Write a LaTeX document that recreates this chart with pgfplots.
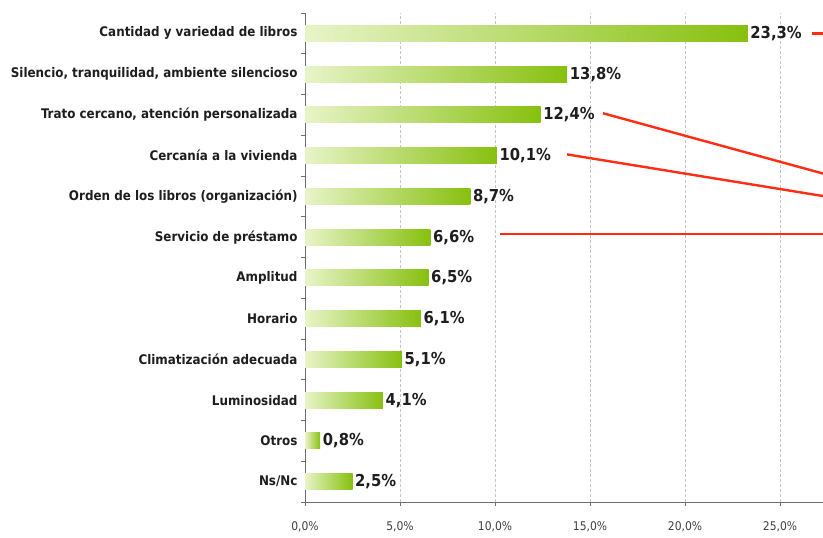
\documentclass[border=0pt]{standalone}
\usepackage{pgfplots}
\pgfplotsset{compat=1.18}
\usepackage{fontspec}
\setmainfont{DejaVu Sans Condensed}
\definecolor{barL}{RGB}{232,244,200}
\definecolor{barR}{RGB}{135,192,15}
\definecolor{txt}{RGB}{30,30,30}
\definecolor{annot}{RGB}{255,45,20}
\definecolor{gridc}{RGB}{195,195,195}
\definecolor{axc}{RGB}{110,110,110}
\pgfplotsset{
  mybar/.style={xbar, bar shift=0pt, bar width=16bp, draw=none,
    left color=barL, right color=barR, point meta=x,
    nodes near coords={\pgfmathprintnumber[assume math mode=true,fixed,fixed zerofill,precision=1,use comma]{\pgfplotspointmeta}\%},
    nodes near coords style={font=\bfseries\fontsize{16.5}{18}\selectfont, text=txt, anchor=west, inner sep=2.5bp}},
}
\begin{document}
\begin{tikzpicture}
\useasboundingbox (0,0) rectangle (823bp,538bp);
\begin{axis}[
  at={(305bp,36bp)}, anchor=south west,
  scale only axis, width=518bp, height=489bp,
  xmin=0, xmax=27.26, ymin=-0.5, ymax=11.5,
  clip=false,
  axis x line*=bottom, axis y line*=left,
  axis line style={draw=axc, line width=0.8bp},
  xtick={0,5,...,25},
  xmajorgrids, grid style={densely dashed, gridc, line width=0.6bp},
  xtick align=outside, ytick align=outside,
  major tick length=4bp, minor tick length=4bp,
  tick style={draw=axc, line width=0.8bp},
  xticklabel={\pgfmathprintnumber[assume math mode=true,fixed,fixed zerofill,precision=1,use comma]{\tick}\%},
  xticklabel style={font=\fontsize{12}{13}\selectfont, text=txt!85, yshift=-12bp},
  ytick={0,...,11},
  yticklabels={Ns/Nc, Otros, Luminosidad, Climatización adecuada, Horario, Amplitud, Servicio de préstamo, Orden de los libros (organización), Cercanía a la vivienda, {Trato cercano, atención personalizada}, {Silencio, tranquilidad, ambiente silencioso}, Cantidad y variedad de libros},
  major y tick style={draw=none},
  minor ytick={-0.5,0.5,...,11.5},
  yticklabel style={font=\bfseries\fontsize{13.3}{15}\selectfont, text=txt},
]
\addplot[mybar] coordinates {(23.3,11)};
\addplot[mybar] coordinates {(13.8,10)};
\addplot[mybar] coordinates {(12.4,9)};
\addplot[mybar] coordinates {(10.1,8)};
\addplot[mybar] coordinates {(8.7,7)};
\addplot[mybar] coordinates {(6.6,6)};
\addplot[mybar] coordinates {(6.5,5)};
\addplot[mybar] coordinates {(6.1,4)};
\addplot[mybar] coordinates {(5.1,3)};
\addplot[mybar] coordinates {(4.1,2)};
\addplot[mybar] coordinates {(0.8,1)};
\addplot[mybar] coordinates {(2.5,0)};
\addplot[annot, line width=2.4bp, no marks, forget plot] coordinates {(26.68,11) (27.5,11)};
\addplot[annot, line width=2.4bp, no marks, forget plot] coordinates {(15.68,9.04) (27.5,7.53)};
\addplot[annot, line width=2.4bp, no marks, forget plot] coordinates {(13.79,8.03) (27.5,6.99)};
\addplot[annot, line width=2.4bp, no marks, forget plot] coordinates {(10.26,6.07) (27.5,6.07)};
\end{axis}
\end{tikzpicture}
\end{document}
